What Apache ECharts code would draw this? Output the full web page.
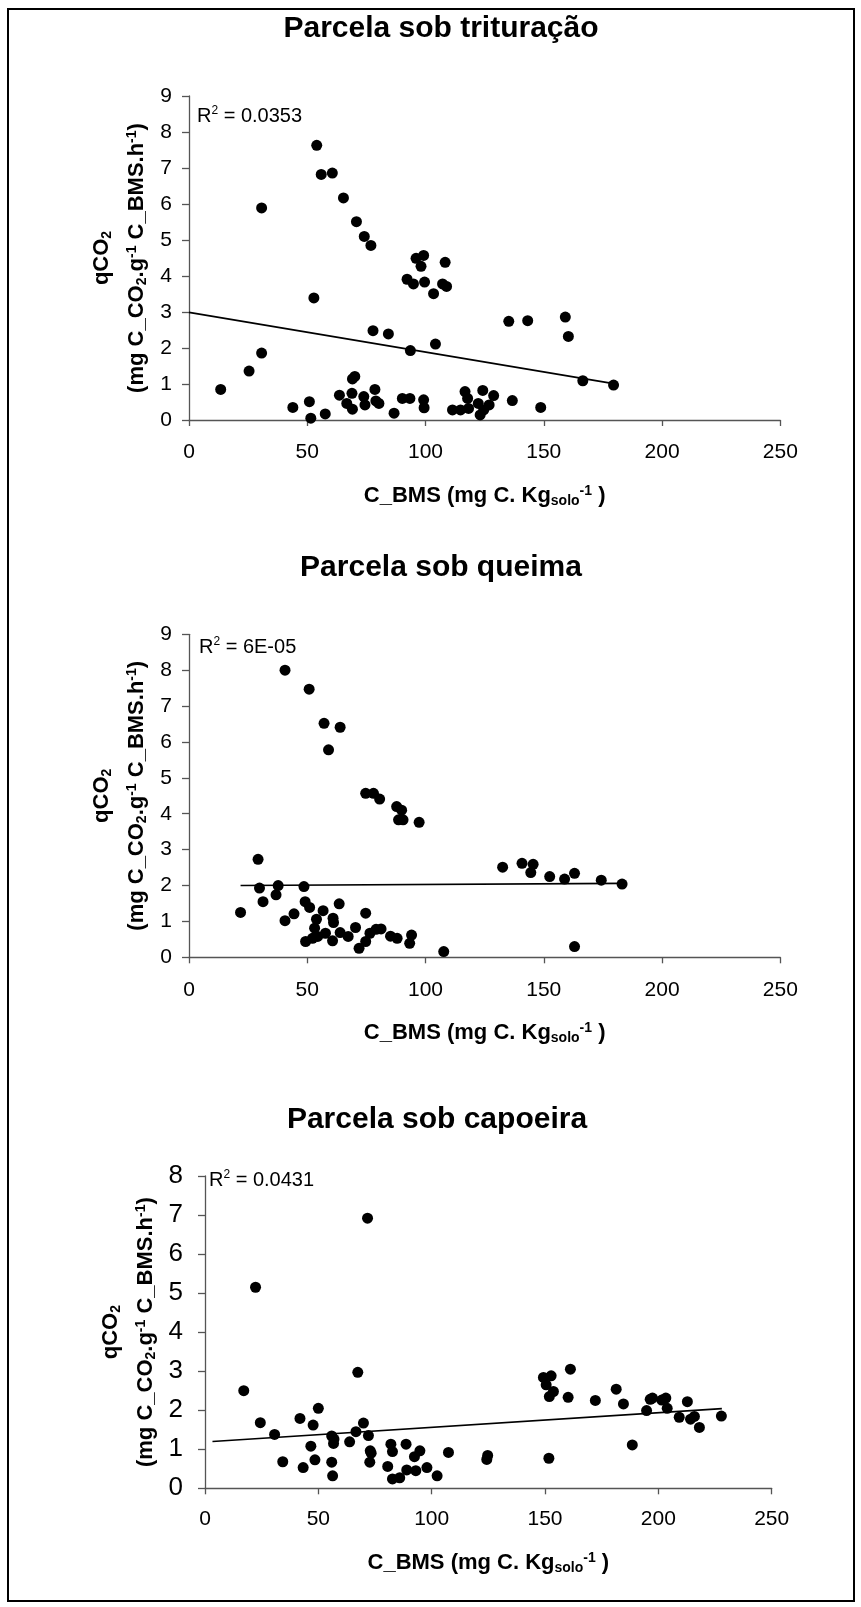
<!DOCTYPE html>
<html>
<head>
<meta charset="utf-8">
<script src="https://cdn.jsdelivr.net/npm/echarts@6/dist/echarts.min.js"></script>
<style>
html,body{margin:0;padding:0;background:#fff;}
#chart{width:861px;height:1607px;}
</style>
</head>
<body>
<div id="chart"></div>
<script>
// ---- Data ----
const xTicks = [0, 50, 100, 150, 200, 250];

// Panel 1: Parcela sob trituração
const trituracaoX = [13.4,25.4,30.7,30.7,43.9,50.9,51.5,52.8,54.0,55.9,57.6,60.6,63.6,65.3,66.7,68.9,69.1,69.1,70.1,70.8,74.1,73.9,74.4,76.9,77.8,78.6,79.0,80.3,84.3,86.7,90.2,93.4,92.2,94.9,93.6,96.0,98.1,99.2,99.6,99.2,99.4,103.4,104.2,107.2,108.3,108.9,111.4,114.8,116.7,117.8,118.2,122.3,123.1,124.2,124.6,126.9,128.8,135.2,136.7,143.2,148.7,159.1,160.4,166.5,179.5];
const trituracaoY = [0.85,1.36,1.86,5.89,0.35,0.51,0.05,3.39,7.63,6.82,0.17,6.86,0.69,6.17,0.46,0.74,0.30,1.14,1.21,5.51,5.10,0.65,0.42,4.85,2.48,0.85,0.53,0.46,2.39,0.19,0.60,0.60,3.91,3.78,1.93,4.49,4.27,4.57,3.83,0.56,0.34,3.51,2.11,3.78,4.38,3.71,0.28,0.28,0.79,0.60,0.32,0.46,0.14,0.82,0.28,0.42,0.68,2.74,0.54,2.76,0.35,2.86,2.32,1.09,0.97];
const trituracaoTrendX = [0, 179.5];
const trituracaoTrendY = [2.99, 1.01];
const trituracaoR2 = '0.0353';

// Panel 2: Parcela sob queima
const queimaX = [21.8,29.2,29.8,31.3,36.8,37.7,40.6,40.6,44.4,48.6,49.1,49.3,50.8,51.0,52.2,53.1,53.9,54.4,56.7,57.1,57.7,59.0,60.7,60.9,61.1,63.5,63.9,63.9,67.3,70.4,71.9,74.7,74.7,74.7,76.5,78.0,79.1,80.6,81.2,85.2,87.8,88.0,88.6,89.9,90.5,93.3,94.1,97.3,107.7,132.6,140.8,144.5,145.5,152.5,158.8,163.0,163.0,174.3,183.1];
const queimaY = [1.25,2.73,1.93,1.55,1.74,2.00,8.00,1.02,1.21,1.97,1.55,0.44,7.47,1.39,0.53,0.81,1.06,0.58,1.30,6.52,0.67,5.78,0.46,1.09,0.97,1.49,6.41,0.69,0.58,0.83,0.25,1.23,4.57,0.44,0.67,4.57,0.78,4.41,0.79,0.59,4.20,0.53,3.83,4.10,3.83,0.39,0.62,3.76,0.16,2.51,2.62,2.36,2.59,2.25,2.18,2.34,0.30,2.15,2.04];
const queimaTrendX = [21.8, 183.1];
const queimaTrendY = [2.00, 2.06];
const queimaR2 = '6E-05';

// Panel 3: Parcela sob capoeira
const capoeiraX = [17.1,22.3,24.4,30.7,34.3,41.9,43.3,46.7,47.7,48.5,50.0,55.9,55.9,56.3,56.7,56.9,63.8,66.6,67.4,69.9,71.7,72.1,72.9,73.3,72.7,80.6,82.0,82.7,82.7,85.9,88.7,89.0,92.4,93.0,94.8,97.9,102.4,107.4,124.3,124.7,149.3,150.5,152.7,151.9,153.7,151.7,160.2,161.2,172.2,181.4,184.6,188.5,194.8,196.4,197.4,201.5,203.3,203.9,209.2,212.8,214.2,215.9,218.1,227.8];
const capoeiraY = [2.50,5.15,1.68,1.38,0.68,1.79,0.53,1.08,1.62,0.73,2.05,1.34,0.67,0.32,1.15,1.26,1.19,1.45,2.97,1.67,6.92,1.35,0.96,0.90,0.67,0.56,1.13,0.94,0.24,0.27,1.13,0.47,0.81,0.45,0.96,0.53,0.32,0.92,0.74,0.84,2.84,2.65,2.88,2.35,2.48,0.77,2.33,3.05,2.25,2.54,2.16,1.11,1.99,2.28,2.31,2.26,2.31,2.05,1.82,2.22,1.77,1.84,1.56,1.85];
const capoeiraTrendX = [3.3, 228.0];
const capoeiraTrendY = [1.20, 2.04];
const capoeiraR2 = '0.0431';

const titles = ['Parcela sob trituração', 'Parcela sob queima', 'Parcela sob capoeira'];
const yMax = [9, 9, 8];

// ---- Build ----
const FONT = "'Liberation Sans', Arial, Helvetica, sans-serif";
const zip = (a, b) => a.map((v, i) => [v, b[i]]);

const panels = [
  { x: trituracaoX, y: trituracaoY, tx: trituracaoTrendX, ty: trituracaoTrendY, r2: trituracaoR2,
    grid: { left: 189, top: 96, width: 591.3, height: 324 }, yFont: 21, xMargin: 22, yMargin: 17,
    title: { x: 441, y: 29 }, yTitleX: 101.7, xTitleY: 496, r2Pos: { x: 197, y: 116 } },
  { x: queimaX, y: queimaY, tx: queimaTrendX, ty: queimaTrendY, r2: queimaR2,
    grid: { left: 189, top: 634.3, width: 591.3, height: 323 }, yFont: 21, xMargin: 22, yMargin: 17,
    title: { x: 441, y: 568 }, yTitleX: 101.7, xTitleY: 1033, r2Pos: { x: 199, y: 647 } },
  { x: capoeiraX, y: capoeiraY, tx: capoeiraTrendX, ty: capoeiraTrendY, r2: capoeiraR2,
    grid: { left: 205, top: 1176, width: 566.7, height: 312.3 }, yFont: 26, xMargin: 20, yMargin: 22,
    title: { x: 437, y: 1120 }, yTitleX: 111, xTitleY: 1563, r2Pos: { x: 209, y: 1180 } }
];

const axisColor = '#555';
const grids = [], xAxes = [], yAxes = [], series = [], graphics = [];

const rich = {
  b: { fontFamily: FONT, fontWeight: 'bold', fontSize: 22, lineHeight: 24, fill: '#000' },
  bsub: { fontFamily: FONT, fontWeight: 'bold', fontSize: 14, lineHeight: 10, verticalAlign: 'bottom', fill: '#000' },
  bsup: { fontFamily: FONT, fontWeight: 'bold', fontSize: 14, lineHeight: 10, verticalAlign: 'top', fill: '#000' }
};
const richR = {
  r: { fontFamily: FONT, fontSize: 20, lineHeight: 22, fill: '#000' },
  sup: { fontFamily: FONT, fontSize: 12, lineHeight: 9, verticalAlign: 'top', fill: '#000' }
};

panels.forEach((p, i) => {
  grids.push(Object.assign({ containLabel: false }, p.grid));
  xAxes.push({
    type: 'value', gridIndex: i, min: xTicks[0], max: xTicks[xTicks.length - 1], interval: xTicks[1] - xTicks[0],
    axisLine: { show: true, onZero: false, lineStyle: { color: axisColor, width: 1.3 } },
    axisTick: { show: true, length: 6, lineStyle: { color: axisColor, width: 1.3 } },
    splitLine: { show: false },
    axisLabel: { fontFamily: FONT, fontSize: 21, color: '#000', margin: p.xMargin }
  });
  yAxes.push({
    type: 'value', gridIndex: i, min: 0, max: yMax[i], interval: 1,
    axisLine: { show: true, onZero: false, lineStyle: { color: axisColor, width: 1.3 } },
    axisTick: { show: true, length: 7, lineStyle: { color: axisColor, width: 1.3 } },
    splitLine: { show: false },
    axisLabel: { fontFamily: FONT, fontSize: p.yFont, color: '#000', margin: p.yMargin }
  });
  series.push({
    type: 'line', xAxisIndex: i, yAxisIndex: i, data: zip(p.tx, p.ty),
    showSymbol: false, symbol: 'none', silent: true, clip: false,
    lineStyle: { color: '#000', width: 1.6 }
  });
  series.push({
    type: 'scatter', xAxisIndex: i, yAxisIndex: i, data: zip(p.x, p.y),
    symbol: 'circle', symbolSize: 11, clip: false, silent: true,
    itemStyle: { color: '#000', opacity: 1 }
  });

  const gcx = p.grid.left + p.grid.width / 2;
  const gcy = p.grid.top + p.grid.height / 2;
  // panel title
  graphics.push({ type: 'text', x: p.title.x, y: p.title.y, silent: true,
    style: { text: titles[i], fontFamily: FONT, fontWeight: 'bold', fontSize: 30, fill: '#000', align: 'center', verticalAlign: 'middle' } });
  // x axis title
  graphics.push({ type: 'text', x: gcx, y: p.xTitleY, silent: true,
    style: { text: '{b|C_BMS (mg C. Kg}{bsub|solo}{bsup|-1}{b| )}', rich: rich, align: 'center', verticalAlign: 'middle' } });
  // y axis title line 1
  graphics.push({ type: 'text', x: p.yTitleX, y: gcy, rotation: Math.PI / 2, silent: true,
    style: { text: '{b|qCO}{bsub|2}', rich: rich, align: 'center', verticalAlign: 'middle' } });
  // y axis title line 2
  graphics.push({ type: 'text', x: p.yTitleX + 35, y: gcy, rotation: Math.PI / 2, silent: true,
    style: { text: '{b|(mg C_CO}{bsub|2}{b|.g}{bsup|-1}{b| C_BMS.h}{bsup|-1}{b|)}', rich: rich, align: 'center', verticalAlign: 'middle' } });
  // R^2
  graphics.push({ type: 'text', x: p.r2Pos.x, y: p.r2Pos.y, silent: true,
    style: { text: '{r|R}{sup|2}{r| = ' + p.r2 + '}', rich: richR, align: 'left', verticalAlign: 'middle' } });
});

// outer frame
graphics.push({ type: 'rect', silent: true, z: 100,
  shape: { x: 8, y: 9, width: 846, height: 1592 },
  style: { fill: 'none', stroke: '#000', lineWidth: 2 } });

const chart = echarts.init(document.getElementById('chart'), null, { renderer: 'canvas' });
chart.setOption({
  animation: false,
  backgroundColor: '#fff',
  grid: grids,
  xAxis: xAxes,
  yAxis: yAxes,
  series: series,
  graphic: graphics
});
</script>
</body>
</html>
